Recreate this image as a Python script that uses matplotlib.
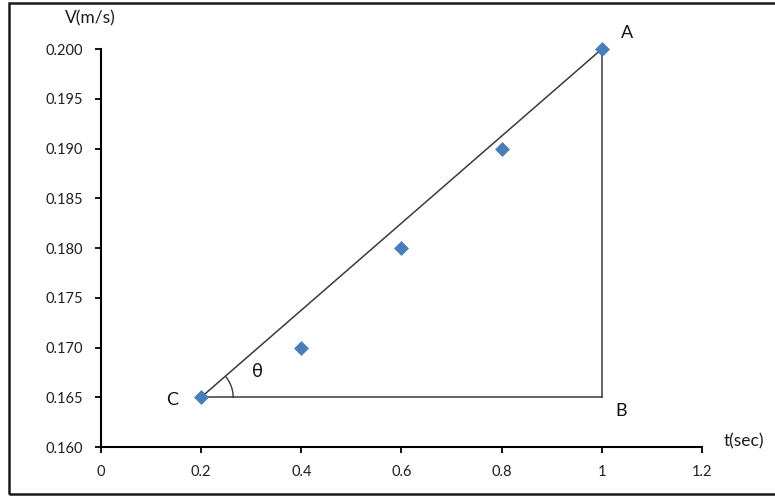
import numpy as np
import matplotlib
matplotlib.use("Agg")
import matplotlib.pyplot as plt
from matplotlib.patches import Rectangle

# velocidade medida em cada instante
tempo = [0.2, 0.4, 0.6, 0.8, 1.0]
velocidade = [0.165, 0.170, 0.180, 0.190, 0.200]

# pontos do triangulo usado para a inclinacao
ponto_a = (1.0, 0.200)
ponto_b = (1.0, 0.165)
ponto_c = (0.2, 0.165)

x_ticks = [0, 0.2, 0.4, 0.6, 0.8, 1, 1.2]
x_labels = ["0", "0.2", "0.4", "0.6", "0.8", "1", "1.2"]
y_ticks = [0.160, 0.165, 0.170, 0.175, 0.180, 0.185, 0.190, 0.195, 0.200]

plt.rcParams["font.family"] = ["Lato", "DejaVu Sans"]

fig = plt.figure(figsize=(7.75, 4.97), dpi=100)
ax = fig.add_axes([0.1303, 0.1006, 0.7755, 0.8008])

# triangulo ABC
ax.plot([ponto_c[0], ponto_a[0]], [ponto_c[1], ponto_a[1]], color="#3a3a3a", lw=1.1, zorder=2)
ax.plot([ponto_a[0], ponto_b[0]], [ponto_a[1], ponto_b[1]], color="#3a3a3a", lw=1.1, zorder=2)
ax.plot([ponto_c[0], ponto_b[0]], [ponto_c[1], ponto_b[1]], color="#3a3a3a", lw=1.1, zorder=2)

ax.scatter(tempo, velocidade, marker="D", s=58, color="#4a7ebb", zorder=3, linewidths=0,
           clip_on=False)

ax.set_xlim(0, 1.2)
ax.set_ylim(0.160, 0.200)

# arco do angulo theta (raio em pixels convertido para dados)
fig.canvas.draw()
bbox = ax.get_window_extent()
raio_px = 32
rx = raio_px / bbox.width * 1.2
ry = raio_px / bbox.height * 0.04
ang_fim = np.degrees(np.arctan2((ponto_a[1] - ponto_c[1]) / ry, (ponto_a[0] - ponto_c[0]) / rx))
t = np.radians(np.linspace(0, ang_fim - 2, 40))
ax.plot(ponto_c[0] + rx * np.cos(t), ponto_c[1] + ry * np.sin(t), color="#3a3a3a", lw=1.0)

ax.text(1.050, 0.2016, "A", fontsize=13, ha="center", va="center", color="#111111", clip_on=False)
ax.text(1.038, 0.1636, "B", fontsize=13, ha="center", va="center", color="#111111")
ax.text(0.142, 0.1647, "C", fontsize=13, ha="center", va="center", color="#111111")
ax.text(0.313, 0.1675, "θ", fontsize=13, ha="center", va="center", color="#111111",
        family=["DejaVu Sans"])

ax.set_xticks(x_ticks)
ax.set_xticklabels(x_labels)
ax.set_yticks(y_ticks)
ax.set_yticklabels([f"{v:.3f}" for v in y_ticks])
ax.tick_params(axis="both", direction="out", length=4, width=1.3, labelsize=10.5,
               labelcolor="#1e1e1e", color="black")
ax.tick_params(axis="x", pad=9)
ax.tick_params(axis="y", pad=9)

for lado in ["top", "right"]:
    ax.spines[lado].set_visible(False)
for lado in ["left", "bottom"]:
    ax.spines[lado].set_linewidth(1.5)
    ax.spines[lado].set_color("black")

fig.text(90 / 775, 1 - 18 / 497, "V(m/s)", fontsize=12.5, ha="center", va="center", color="#1e1e1e")
fig.text(744 / 775, 1 - 441 / 497, "t(sec)", fontsize=12.5, ha="center", va="center", color="#1e1e1e")

# moldura externa
fig.patches.append(Rectangle((8.5 / 775, 3 / 497), 1.2, 1 - 5.5 / 497, transform=fig.transFigure,
                             fill=False, edgecolor="#1a1a1a", lw=1.8))

fig.savefig("out.png", dpi=100)
